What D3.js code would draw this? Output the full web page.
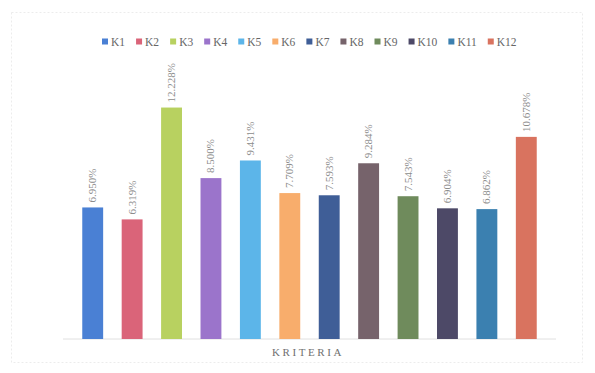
<!DOCTYPE html>
<html>
<head>
<meta charset="utf-8">
<script src="https://cdn.jsdelivr.net/npm/d3@7"></script>
<style>
  body { margin: 0; background: #fff; }
  text { font-family: "Liberation Serif", "DejaVu Serif", serif; }
</style>
</head>
<body>
<svg id="chart" width="595" height="373"></svg>
<script>
// chart data
var categories = ["K1", "K2", "K3", "K4", "K5", "K6", "K7", "K8", "K9", "K10", "K11", "K12"];
var values = [6.950, 6.319, 12.228, 8.500, 9.431, 7.709, 7.593, 9.284, 7.543, 6.904, 6.862, 10.678];
var labels = ["6.950%", "6.319%", "12.228%", "8.500%", "9.431%", "7.709%", "7.593%", "9.284%", "7.543%", "6.904%", "6.862%", "10.678%"];
var colors = ["#4a80d4", "#da6479", "#b8d160", "#9b74cb", "#5cb5e9", "#f8ad6c", "#3f5e97", "#76636b", "#6f8b5c", "#4d4967", "#3b80b0", "#d9735f"];

var svg = d3.select("#chart");

// faint outer frame
svg.append("rect")
  .attr("x", 11.5).attr("y", 12.5)
  .attr("width", 571).attr("height", 350)
  .attr("fill", "none")
  .attr("stroke", "#ececec")
  .attr("stroke-dasharray", "2,2");

var x = d3.scaleBand().domain(categories).range([73, 546]).paddingInner(0.47).paddingOuter(0.235);
var y = d3.scaleLinear().domain([0, 14]).range([339, 74]);

// baseline
svg.append("g")
  .attr("transform", "translate(0," + y(0) + ")")
  .call(d3.axisBottom(x).tickSize(0).tickFormat(""))
  .call(function (g) { g.select(".domain").attr("stroke", "#e0e0e0").attr("d", "M63,0H556"); });

// bars
svg.selectAll(".bar").data(values).enter().append("rect")
  .attr("class", "bar")
  .attr("x", function (d, i) { return x(categories[i]); })
  .attr("width", x.bandwidth())
  .attr("y", function (d) { return y(d); })
  .attr("height", function (d) { return y(0) - y(d); })
  .attr("fill", function (d, i) { return colors[i]; });

// value labels, rotated
svg.selectAll(".lbl").data(values).enter().append("text")
  .attr("class", "lbl")
  .attr("transform", function (d, i) {
    return "translate(" + (x(categories[i]) + x.bandwidth() / 2 + 3.5) + "," + (y(d) - 5) + ") rotate(-90)";
  })
  .attr("font-size", 11)
  .attr("fill", "#8c8c8c")
  .text(function (d, i) { return labels[i]; });

// axis title
svg.append("text")
  .attr("x", 308).attr("y", 356)
  .attr("text-anchor", "middle")
  .attr("font-size", 11)
  .attr("letter-spacing", 2.6)
  .attr("fill", "#707070")
  .text("KRITERIA");

// legend
var legend = svg.append("g").attr("transform", "translate(102,42)");
var lx = 0;
categories.forEach(function (c, i) {
  var item = legend.append("g").attr("transform", "translate(" + lx + ",0)");
  item.append("rect").attr("x", 0).attr("y", -3.5).attr("width", 6).attr("height", 6).attr("fill", colors[i]);
  var t = item.append("text").attr("x", 9).attr("y", 0).attr("dy", "0.35em")
    .attr("font-size", 11.5).attr("fill", "#666").text(c);
  lx += 9 + t.node().getComputedTextLength() + 11;
});
</script>
</body>
</html>
